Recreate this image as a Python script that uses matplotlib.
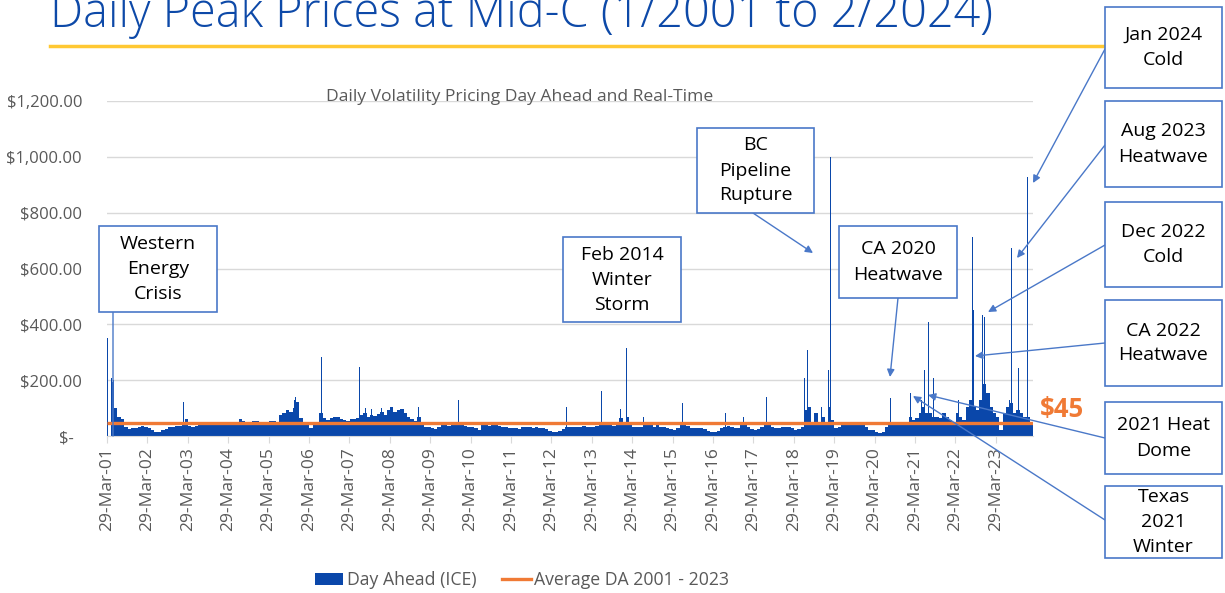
import matplotlib
matplotlib.use("Agg")
import matplotlib.pyplot as plt
import matplotlib.dates as mdates
from matplotlib.patches import Rectangle, FancyArrowPatch, Patch
from matplotlib.lines import Line2D
import pandas as pd

W, H = 1225, 593
FONT = ["Open Sans", "DejaVu Sans"]
plt.rcParams['font.family'] = FONT

# ---------------- data (Mid-C daily peak, $/MWh) ----------------
# typical monthly level of the daily Day Ahead (ICE) price
da_2001 = [0, 195, 100, 68, 60, 32, 25, 28, 30]          # Apr-Dec
da_2002 = [33, 35, 33, 27, 21, 16, 16, 21, 24, 31, 33, 36]
da_2003 = [36, 45, 60, 36, 33, 36, 39, 43, 39, 39, 40, 43]
da_2004 = [43, 40, 39, 42, 45, 42, 60, 55, 45, 43, 55, 55]
da_2005 = [51, 48, 45, 55, 55, 45, 75, 81, 93, 87, 99, 123]
da_2006 = [63, 43, 39, 27, 39, 42, 81, 63, 57, 63, 67, 67]
da_2007 = [60, 57, 55, 60, 60, 63, 75, 81, 67, 75, 72, 79]
da_2008 = [87, 75, 93, 103, 87, 93, 95, 81, 67, 60, 55, 69]
da_2009 = [39, 33, 31, 27, 24, 33, 39, 39, 36, 39, 39, 51]
da_2010 = [39, 36, 33, 33, 27, 21, 39, 42, 36, 39, 39, 36]
da_2011 = [33, 33, 30, 27, 27, 24, 31, 33, 31, 27, 31, 27]
da_2012 = [27, 24, 19, 16, 16, 19, 24, 31, 33, 33, 33, 33]
da_2013 = [36, 31, 31, 33, 36, 39, 45, 45, 39, 36, 45, 63]
da_2014 = [51, 69, 45, 31, 33, 31, 43, 39, 39, 31, 45, 33]
da_2015 = [31, 27, 25, 21, 27, 39, 39, 36, 30, 27, 27, 27]
da_2016 = [24, 19, 16, 14, 19, 27, 33, 36, 31, 27, 27, 39]
da_2017 = [39, 33, 24, 21, 24, 31, 43, 51, 33, 30, 30, 33]
da_2018 = [31, 31, 27, 21, 24, 33, 93, 105, 51, 81, 51, 69]
da_2019 = [51, 105, 57, 27, 33, 39, 45, 51, 39, 45, 45, 39]
da_2020 = [33, 21, 21, 16, 12, 16, 33, 45, 39, 39, 39, 43]
da_2021 = [45, 69, 57, 63, 81, 105, 81, 81, 69, 69, 63, 81]
da_2022 = [69, 57, 51, 81, 69, 57, 105, 129, 105, 93, 129, 188]
da_2023 = [153, 105, 81, 69, 21, 81, 105, 117, 81, 93, 81, 69]
da_2024 = [69, 45]                                         # Jan-Feb

# individual price spikes (daily)
spike_dates = ['2001-03-30', '2001-04-01', '2001-05-10', '2001-05-25', '2003-02-16',
               '2005-11-20', '2005-12-01', '2006-07-20', '2007-06-27', '2007-08-23',
               '2007-10-16', '2008-01-15', '2008-03-31', '2008-12-12', '2009-12-09',
               '2012-08-13', '2013-06-27', '2013-12-10', '2014-02-05', '2014-07-07',
               '2015-06-27', '2016-07-20', '2016-12-29', '2017-07-28', '2017-08-26',
               '2018-07-08', '2018-08-01', '2018-10-07', '2018-12-05', '2019-02-03',
               '2019-02-26', '2020-08-22', '2021-02-15', '2021-05-28', '2021-06-27',
               '2021-07-27', '2021-09-11', '2022-04-24', '2022-09-01', '2022-09-06',
               '2022-12-03', '2022-12-21', '2023-08-04', '2023-08-20', '2023-10-24',
               '2024-01-11']
spike_values = [175, 351, 206, 200, 123,
                130, 141, 284, 248, 99,
                95, 99, 105, 105, 129,
                105, 162, 97, 314, 69,
                117, 81, 69, 141, 132,
                206, 308, 147, 105, 236,
                1000, 135, 153, 129, 236,
                409, 206, 129, 713, 451,
                433, 427, 129, 672, 242,
                928]

avg_da = 45
avg_label = "$45"
y_ticks = [0, 200, 400, 600, 800, 1000, 1200]
tick_years = list(range(2001, 2024))

title = "Daily Peak Prices at Mid-C (1/2001 to 2/2024)"
subtitle = "Daily Volatility Pricing Day Ahead and Real-Time"
legend_labels = ["Day Ahead (ICE)", "Average DA 2001 - 2023"]

callouts = [
    ("Western\nEnergy\nCrisis", (99, 226, 217, 312)),
    ("Feb 2014\nWinter\nStorm", (563, 237, 681, 322)),
    ("BC\nPipeline\nRupture", (697, 128, 814, 213)),
    ("CA 2020\nHeatwave", (839, 226, 957, 298)),
    ("Jan 2024\nCold", (1105, 7, 1222, 88)),
    ("Aug 2023\nHeatwave", (1105, 101, 1222, 187)),
    ("Dec 2022\nCold", (1105, 202, 1222, 287)),
    ("CA 2022\nHeatwave", (1105, 300, 1222, 386)),
    ("2021 Heat\nDome", (1105, 402, 1222, 474)),
    ("Texas\n2021\nWinter", (1105, 486, 1222, 558)),
]
arrows = [  # (start px, end px, head)
    ((113, 312), (113, 436), False),
    ((753, 213), (813, 253), True),
    ((898, 298), (890, 377), True),
    ((1105, 49), (1033, 183), True),
    ((1105, 145), (1017, 258), True),
    ((1105, 245), (988, 312), True),
    ((1105, 343), (975, 356), True),
    ((1105, 438), (928, 395), True),
    ((1105, 520), (913, 396), True),
]

# ---------------- build ----------------
monthly = (da_2001 + da_2002 + da_2003 + da_2004 + da_2005 + da_2006 + da_2007 +
           da_2008 + da_2009 + da_2010 + da_2011 + da_2012 + da_2013 + da_2014 +
           da_2015 + da_2016 + da_2017 + da_2018 + da_2019 + da_2020 + da_2021 +
           da_2022 + da_2023 + da_2024)
edges = pd.date_range("2001-04-01", periods=len(monthly) + 1, freq="MS")

BLUE = "#0A47AA"
ORANGE = "#F07A35"
GRID = "#D9D9D9"
GRAY = "#595959"
BOX = "#4A78C8"


def P(x, y):
    return (x / W, 1 - y / H)


fig = plt.figure(figsize=(W / 100, H / 100), dpi=100)
ax = fig.add_axes([107 / W, 1 - 436 / H, (1033 - 107) / W, (436 - 101) / H])

ax.stairs(monthly, mdates.date2num(edges), fill=True, color=BLUE, linewidth=0, zorder=2)
ax.bar(pd.to_datetime(spike_dates), spike_values, width=8, align="center",
       color=BLUE, linewidth=0, zorder=2)
x0, x1 = pd.Timestamp("2001-03-29"), pd.Timestamp("2024-02-29")
ax.plot([x0, x1], [avg_da, avg_da], color=ORANGE, lw=2.4, zorder=3, solid_capstyle="butt")

ax.xaxis_date()
ax.set_xlim(x0, x1)
ax.set_ylim(0, 1200)
ax.set_yticks(y_ticks)
ax.set_yticklabels(["$-  "] + [f"${v:,.2f}" for v in y_ticks[1:]])
tick_dates = [pd.Timestamp(f"{y}-03-29") for y in tick_years]
ax.set_xticks(tick_dates)
ax.set_xticklabels([d.strftime("%d-%b-%y") for d in tick_dates], rotation=90)
ax.yaxis.grid(True, color=GRID, lw=1, zorder=0)
ax.set_axisbelow(True)
for s in ["top", "right", "left"]:
    ax.spines[s].set_visible(False)
ax.spines["bottom"].set_color(GRID)
ax.tick_params(axis="y", length=0, pad=18, labelsize=12, labelcolor=GRAY)
ax.tick_params(axis="x", length=5, color=GRID, pad=3, labelsize=12.5, labelcolor=GRAY)

# titles
t = fig.text(50 / W, 1 - 27 / H, title, fontsize=32, color="#0D49A8",
             ha="left", va="baseline", fontweight="light")
r = fig.canvas.get_renderer()
t.set_fontsize(32 * 943 / t.get_window_extent(r).width)
fig.add_artist(Line2D([50 / W, 1105 / W], [1 - 46 / H] * 2, color="#FFC832", lw=2.5))
fig.text(*P(520, 97), subtitle, ha="center", va="center", fontsize=12.6, color=GRAY)

# $45 label
fig.text(*P(1062, 409), avg_label, ha="center", va="center", fontsize=18.5,
         fontweight="bold", color=ORANGE)

# callouts
for s, e, head in arrows:
    fig.add_artist(FancyArrowPatch(P(*s), P(*e), transform=fig.transFigure,
                                   arrowstyle="-|>" if head else "-",
                                   mutation_scale=11, lw=1.0, color=BOX,
                                   shrinkA=0, shrinkB=0, zorder=4))
for txt, (l, tp, rr, b) in callouts:
    fig.add_artist(Rectangle(P(l, b), (rr - l) / W, (b - tp) / H,
                             transform=fig.transFigure, facecolor="white",
                             edgecolor=BOX, lw=1.2, zorder=5))
    fig.text(*P((l + rr) / 2, (tp + b) / 2), txt, ha="center", va="center",
             fontsize=14, color="black", linespacing=1.5, zorder=6)

# legend
handles = [Patch(facecolor=BLUE, edgecolor="none"),
           Line2D([], [], color=ORANGE, lw=2.4)]
fig.legend(handles, legend_labels, loc="center", bbox_to_anchor=P(522, 580),
           ncol=2, frameon=False, fontsize=12.7, handlelength=1.6, handleheight=0.7,
           columnspacing=1.5, handletextpad=0.2, labelcolor=GRAY)

fig.savefig("out.png", dpi=100)
